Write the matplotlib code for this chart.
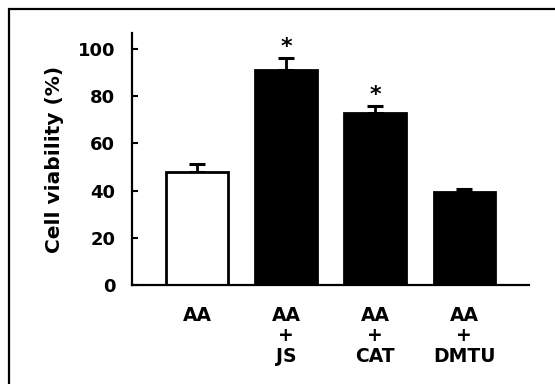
import matplotlib
matplotlib.use("Agg")
import matplotlib.pyplot as plt
from matplotlib.patches import Rectangle

# Cell viability per treatment (mean and upper SEM)
groups = ['AA', 'AA\n+\nJS', 'AA\n+\nCAT', 'AA\n+\nDMTU']
viability = [47.7, 91.3, 72.7, 39.3]
sem = [3.5, 5.0, 3.3, 1.5]
significant = [False, True, True, False]
bar_colors = ['white', 'black', 'black', 'black']

plt.rcParams['font.family'] = ['DejaVu Sans']
plt.rcParams['font.weight'] = 'bold'

fig = plt.figure(figsize=(5.55, 3.84), dpi=100)
ax = fig.add_axes([0.2378, 0.2578, 0.7152, 0.6562])

x = range(len(groups))
ax.bar(x, viability, width=0.69, color=bar_colors, edgecolor='black',
       linewidth=2.0, zorder=2)
ax.errorbar(x, viability, yerr=[[0] * len(sem), sem], fmt='none',
            ecolor='black', elinewidth=2.0, capsize=6, capthick=2.2, zorder=1)

# significance markers above the error bars
for i, (v, e, sig) in enumerate(zip(viability, sem, significant)):
    if sig:
        ax.text(i, v + e + 0.5, '*', ha='center', va='bottom',
                fontsize=16, fontweight='heavy')

ax.set_xlim(-0.73, 3.725)
ax.set_ylim(0, 106.8)
ax.set_yticks([0, 20, 40, 60, 80, 100])
ax.set_xticks(list(x))
ax.set_xticklabels(groups, fontsize=13.5, fontweight='bold', linespacing=1.1)
ax.tick_params(axis='y', direction='in', length=4, width=1.5, pad=12,
               labelsize=13)
ax.tick_params(axis='x', length=0, pad=15)
for lab in ax.get_yticklabels():
    lab.set_fontweight('bold')

ax.set_ylabel('Cell viability (%)', fontsize=14.5, fontweight='bold',
              labelpad=10)

for side in ['top', 'right']:
    ax.spines[side].set_visible(False)
for side in ['left', 'bottom']:
    ax.spines[side].set_linewidth(1.6)

# outer panel border, running off the right and bottom edges
fig.patches.append(Rectangle((9 / 555, -0.1), 1.2, 1.1 - 9 / 384,
                             transform=fig.transFigure, fill=False,
                             edgecolor='black', linewidth=1.6))

fig.savefig('out.png', dpi=100)
